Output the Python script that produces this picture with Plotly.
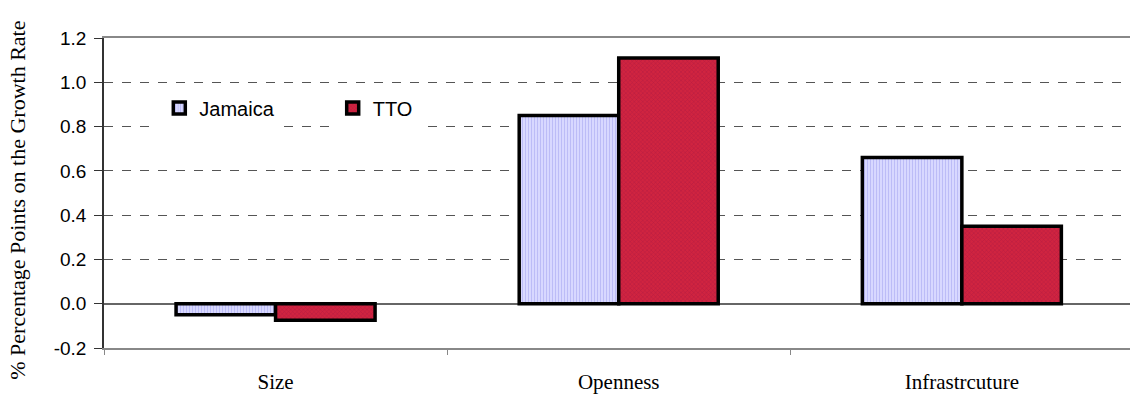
import plotly.graph_objects as go

categories = ["Size", "Openness", "Infrastrcuture"]
jamaica = [-0.05, 0.85, 0.66]
tto = [-0.075, 1.11, 0.35]
y_ticks = [-0.2, 0.0, 0.2, 0.4, 0.6, 0.8, 1.0, 1.2]
y_tick_text = ["-0.2", "0.0", "0.2", "0.4", "0.6", "0.8", "1.0", "1.2"]
y_title = "% Percentage Points on the Growth Rate"

fig = go.Figure()
fig.add_trace(go.Bar(
    name="Jamaica", x=categories, y=jamaica, legend="legend",
    marker=dict(color="#D4D4FF", line=dict(color="black", width=3.5),
                pattern=dict(shape="|", fgcolor="#A0A0F0", bgcolor="#D8D8FF", size=3, solidity=0.35)),
))
fig.add_trace(go.Bar(
    name="TTO", x=categories, y=tto, legend="legend2",
    marker=dict(color="#C8203E", line=dict(color="black", width=3.5),
                pattern=dict(shape="x", fgcolor="#9A1040", bgcolor="#D02440", size=3, solidity=0.3)),
))

legend_style = dict(yanchor="middle", xanchor="left", bgcolor="white",
                    bordercolor="white", borderwidth=4,
                    font=dict(family="Arial, Liberation Sans", size=20, color="black"),
                    itemwidth=30)

fig.update_layout(
    width=1130, height=397,
    margin=dict(l=104, r=0, t=38, b=49),
    paper_bgcolor="white", plot_bgcolor="white",
    barmode="group", bargap=0.42, bargroupgap=0,
    showlegend=True,
    legend=dict(x=0.05, y=0.774, **legend_style),
    legend2=dict(x=0.219, y=0.774, **legend_style),
    xaxis=dict(range=[-0.5, 2.49], showline=True, mirror=True, linecolor="#888888", linewidth=1.5,
               ticks="outside", tickson="boundaries", ticklen=5, tickcolor="#888888",
               ticklabelstandoff=14,
               tickfont=dict(family="Liberation Serif, Times New Roman", size=21, color="black"),
               showgrid=False),
    yaxis=dict(range=[-0.2, 1.2], tickvals=y_ticks, ticktext=y_tick_text,
               showline=True, linecolor="#333333", linewidth=1.5,
               ticks="outside", ticklen=8, tickcolor="#333333",
               ticklabelstandoff=4,
               tickfont=dict(family="Arial, Liberation Sans", size=19, color="black"),
               showgrid=True, gridcolor="#555555", griddash="dash", gridwidth=1,
               zeroline=True, zerolinecolor="#666666", zerolinewidth=1.5),
    annotations=[dict(text=y_title, textangle=-90, xref="paper", yref="paper",
                      x=0, y=0.475, xanchor="center", yanchor="middle", xshift=-86,
                      showarrow=False,
                      font=dict(family="Liberation Serif, Times New Roman", size=22, color="black"))],
)

fig.write_html("out.html")
